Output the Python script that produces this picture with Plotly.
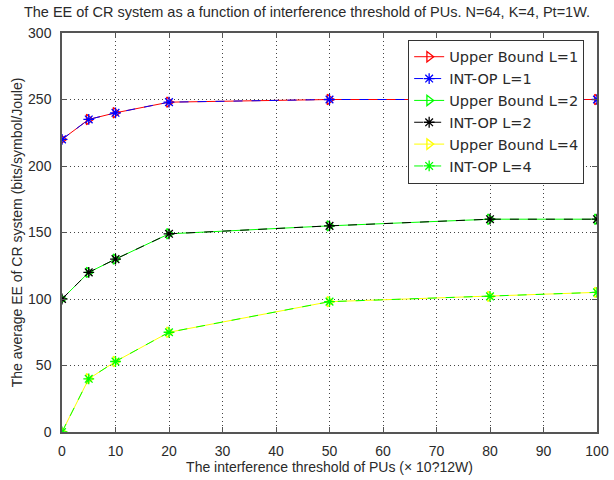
import plotly.graph_objects as go

x_vals = [0, 5, 10, 20, 50, 80, 100]
ub_l1 = [220, 235, 240, 248, 250, 250, 250]
op_l1 = [220, 235, 240, 248, 250, 250, 250]
ub_l2 = [100, 120, 130, 149, 155, 160, 160]
op_l2 = [100, 120, 130, 149, 155, 160, 160]
ub_l4 = [0, 40, 53, 75, 98, 102, 105]
op_l4 = [0, 40, 53, 75, 98, 102, 105]

series = [
    ("Upper Bound L=1", ub_l1, "#ff0000", "solid", "triangle-right-open"),
    ("INT-OP L=1", op_l1, "#0000ff", "dash", "asterisk-open"),
    ("Upper Bound L=2", ub_l2, "#00ff00", "solid", "triangle-right-open"),
    ("INT-OP L=2", op_l2, "#000000", "dash", "asterisk-open"),
    ("Upper Bound L=4", ub_l4, "#ffff00", "solid", "triangle-right-open"),
    ("INT-OP L=4", op_l4, "#00ff00", "dash", "asterisk-open"),
]

fig = go.Figure()
for name, ys, color, dash, sym in series:
    fig.add_trace(go.Scatter(
        x=x_vals, y=ys, name=name, mode="lines+markers",
        line=dict(color=color, width=1, dash=dash),
        marker=dict(symbol=sym, size=9, color=color, line=dict(color=color, width=1.3)),
    ))

font = "Liberation Sans, Arial, sans-serif"
txt = "#2a2a2a"
fig.update_layout(
    width=614, height=480,
    margin=dict(l=62, r=17, t=33, b=48),
    paper_bgcolor="white", plot_bgcolor="white",
    font=dict(family=font, size=13, color=txt),
    title=dict(text="The EE of CR system as a function of interference threshold of PUs. N=64, K=4, Pt=1W.",
               x=0.5, xanchor="center", y=0.975, yanchor="middle", font=dict(size=14.5, color=txt)),
    showlegend=True,
    legend=dict(x=0.976, y=0.983, xanchor="right", yanchor="top",
                bgcolor="white", bordercolor="#333", borderwidth=1,
                entrywidth=160, entrywidthmode="pixels",
                font=dict(family="DejaVu Sans, sans-serif", size=14.5, color=txt), tracegroupgap=0),
)
axis_common = dict(showline=True, linecolor="#555", linewidth=1.5, mirror="ticks",
                   ticks="inside", ticklen=5, tickcolor="#555", automargin=False,
                   showgrid=True, gridcolor="#444", griddash="1px,3px", gridwidth=1,
                   zeroline=False, tickfont=dict(size=14, color=txt))
fig.update_xaxes(range=[0, 100], tickvals=list(range(0, 101, 10)), ticklabelstandoff=5,
                 title=dict(text="The interference threshold of PUs (× 10?12W)", standoff=2,
                            font=dict(size=14, color=txt)), **axis_common)
fig.update_yaxes(range=[0, 300], tickvals=list(range(0, 301, 50)), ticklabelstandoff=6,
                 title=dict(text="The average EE of CR system (bits/symbol/Joule)", standoff=2,
                            font=dict(size=14, color=txt)), **axis_common)

fig.write_html("out.html")
